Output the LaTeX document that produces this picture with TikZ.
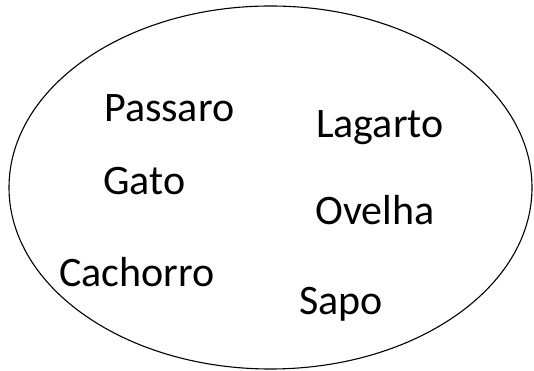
\documentclass[tikz,border=0pt]{standalone}
\usepackage{fontspec}
\setmainfont{Carlito}
\begin{document}
\begin{tikzpicture}[x=1pt,y=1pt,
  word/.style={anchor=base west,inner sep=0pt,font=\fontsize{42}{50}\selectfont}]
\useasboundingbox (0,0) rectangle (534,371);
\draw[line width=1.1pt] (270.5,183.5) ellipse [x radius=261.5, y radius=181.5];
\node[word] (passaro) at (104,249) {Passaro};
\node[word] (lagarto) at (316,233) {Lagarto};
\node[word] (gato) at (103,176) {Gato};
\node[word] (ovelha) at (315,146) {Ovelha};
\node[word] (cachorro) at (59,84) {Cachorro};
\node[word] (sapo) at (299,56) {Sapo};
\end{tikzpicture}
\end{document}
